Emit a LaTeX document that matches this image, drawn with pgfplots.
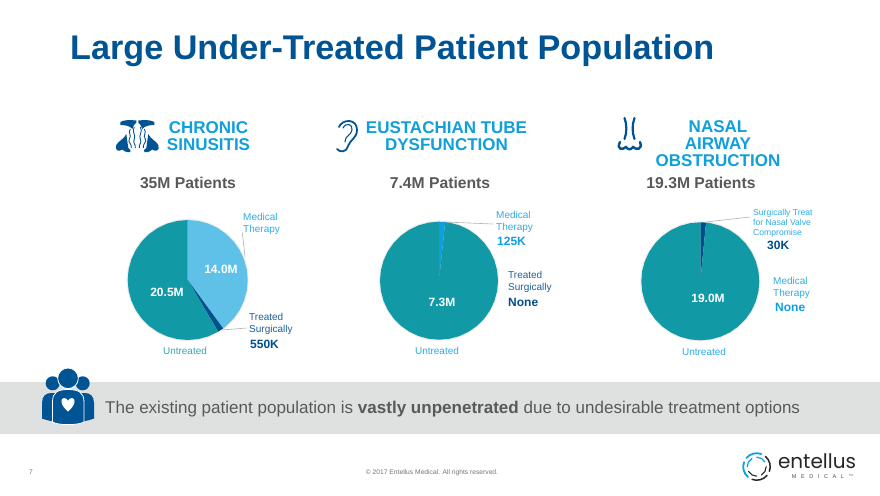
\documentclass[border=0pt]{standalone}
\usepackage{pgfplots}
\pgfplotsset{compat=1.18}
\usepgfplotslibrary{polar}
\usepackage{fontspec}
\setmainfont{Liberation Sans}
\newfontfamily\logofont{Poppins}
\definecolor{titleblue}{HTML}{005493}
\definecolor{head}{HTML}{0F9FDB}
\definecolor{greytxt}{HTML}{595959}
\definecolor{teal1}{HTML}{1199A6}
\definecolor{sky}{HTML}{5FC1E8}
\definecolor{navy}{HTML}{004F8C}
\definecolor{mid}{HTML}{0E9FE0}
\definecolor{lbl}{HTML}{2FACE2}
\definecolor{dk}{HTML}{1F5E9C}
\definecolor{tealtxt}{HTML}{3AA6B2}
\definecolor{band}{HTML}{DFE1E1}
\newcommand{\T}[6]{\node[anchor=#3,inner sep=0pt,text=#4,text height=#5*0.72pt,text depth=0pt,font=\fontsize{#5pt}{#5pt}\selectfont] at (#1,#2) {#6};}
\pgfplotsset{pie/.style={hide axis,scale only axis,width=#1pt,height=#1pt,anchor=center,xmin=0,xmax=360,ymin=0,ymax=1,clip=false}}
\begin{document}
\begin{tikzpicture}[x=1pt,y=-1pt]
\path[use as bounding box] (0,0) rectangle (880,495);
\fill[white] (0,0) rectangle (880,495);
\fill[band] (0,382) rectangle (880,434);
\foreach \cx/\cy/\r in {187.7/280/60,439/280.7/59,700.3/281.3/59}{\fill[black!7] (\cx,\cy) circle (\r+1);}

% Chronic sinusitis: 14.0M, 0.55M, 20.5M
\begin{polaraxis}[pie=120,at={(187.7pt,-280pt)}]
\addplot[fill=sky,draw=none,no markers] coordinates {(0,0)(90,1)(80,1)(70,1)(60,1)(50,1)(40,1)(30,1)(20,1)(10,1)(0,1)(-10,1)(-20,1)(-30,1)(-40,1)(-50,1)(-53.8,1)};
\addplot[fill=navy,draw=none,no markers] coordinates {(0,0)(-53.8,1)(-59.45,1)};
\addplot[fill=teal1,draw=none,no markers] coordinates {(0,0)(-59.45,1)(-70,1)(-80,1)(-90,1)(-100,1)(-110,1)(-120,1)(-130,1)(-140,1)(-150,1)(-160,1)(-170,1)(-180,1)(-190,1)(-200,1)(-210,1)(-220,1)(-230,1)(-240,1)(-250,1)(-260,1)(-270,1)};
\end{polaraxis}
% Eustachian tube dysfunction: 0.125M, 7.3M
\begin{polaraxis}[pie=118,at={(439pt,-280.7pt)}]
\addplot[fill=mid,draw=none,no markers] coordinates {(0,0)(90,1)(84,1)};
\addplot[fill=teal1,draw=none,no markers] coordinates {(0,0)(84,1)(80,1)(70,1)(60,1)(50,1)(40,1)(30,1)(20,1)(10,1)(0,1)(-10,1)(-20,1)(-30,1)(-40,1)(-50,1)(-60,1)(-70,1)(-80,1)(-90,1)(-100,1)(-110,1)(-120,1)(-130,1)(-140,1)(-150,1)(-160,1)(-170,1)(-180,1)(-190,1)(-200,1)(-210,1)(-220,1)(-230,1)(-240,1)(-250,1)(-260,1)(-270,1)};
\end{polaraxis}
% Nasal airway obstruction: 0.3M as drawn, 19.0M
\begin{polaraxis}[pie=118,at={(700.3pt,-281.3pt)}]
\addplot[fill=navy,draw=none,no markers] coordinates {(0,0)(90,1)(84.4,1)};
\addplot[fill=teal1,draw=none,no markers] coordinates {(0,0)(84.4,1)(80,1)(70,1)(60,1)(50,1)(40,1)(30,1)(20,1)(10,1)(0,1)(-10,1)(-20,1)(-30,1)(-40,1)(-50,1)(-60,1)(-70,1)(-80,1)(-90,1)(-100,1)(-110,1)(-120,1)(-130,1)(-140,1)(-150,1)(-160,1)(-170,1)(-180,1)(-190,1)(-200,1)(-210,1)(-220,1)(-230,1)(-240,1)(-250,1)(-260,1)(-270,1)};
\end{polaraxis}

% leaders
\draw[black!30,line width=.6pt] (242.3,232.3) -- (245,256.7);
\draw[black!30,line width=.6pt] (222,330) -- (246.7,328);
\draw[black!30,line width=.6pt] (445,222) -- (493,224);
\draw[black!30,line width=.6pt] (706,222) -- (750,217);

% title
\T{70}{47}{west}{titleblue}{34.2}{\bfseries Large Under-Treated Patient Population}

% headings
\T{208.5}{127}{center}{head}{17}{\bfseries CHRONIC}
\T{208.5}{144}{center}{head}{17}{\bfseries SINUSITIS}
\T{446.5}{127}{center}{head}{17}{\bfseries EUSTACHIAN TUBE}
\T{446.5}{144}{center}{head}{17}{\bfseries DYSFUNCTION}
\T{718}{126}{center}{head}{17}{\bfseries NASAL}
\T{718}{143}{center}{head}{17}{\bfseries AIRWAY}
\T{718}{160}{center}{head}{17}{\bfseries OBSTRUCTION}
\T{188}{183}{center}{greytxt}{15.7}{\bfseries 35M Patients}
\T{440}{183}{center}{greytxt}{15.7}{\bfseries 7.4M Patients}
\T{701}{183}{center}{greytxt}{15.7}{\bfseries 19.3M Patients}

% pie 1 labels
\T{243}{217}{west}{lbl}{10}{Medical}
\T{243}{229}{west}{lbl}{10}{Therapy}
\T{221}{269}{center}{white}{12}{\bfseries 14.0M}
\T{167}{292}{center}{white}{12}{\bfseries 20.5M}
\T{249}{317}{west}{dk}{10}{Treated}
\T{249}{329}{west}{dk}{10}{Surgically}
\T{250}{344}{west}{navy}{12}{\bfseries 550K}
\T{185}{351}{center}{tealtxt}{10}{Untreated}
% pie 2 labels
\T{496}{215}{west}{lbl}{10}{Medical}
\T{496}{227}{west}{lbl}{10}{Therapy}
\T{497}{241}{west}{mid}{12}{\bfseries 125K}
\T{508}{275}{west}{dk}{10}{Treated}
\T{508}{287}{west}{dk}{10}{Surgically}
\T{508}{302}{west}{navy}{12}{\bfseries None}
\T{442}{302}{center}{white}{12}{\bfseries 7.3M}
\T{437}{351}{center}{lbl}{10}{Untreated}
% pie 3 labels
\T{753}{212}{west}{lbl}{8.6}{Surgically Treat}
\T{753}{222}{west}{lbl}{8.6}{for Nasal Valve}
\T{753}{232}{west}{lbl}{8.6}{Compromise}
\T{767}{245}{west}{navy}{12}{\bfseries 30K}
\T{773}{281}{west}{lbl}{10}{Medical}
\T{773}{293}{west}{lbl}{10}{Therapy}
\T{775}{307}{west}{mid}{12}{\bfseries None}
\T{708}{298}{center}{white}{12}{\bfseries 19.0M}
\T{704}{352}{center}{lbl}{10}{Untreated}

% band text and footer
\T{105}{407}{west}{greytxt}{17.03}{The existing patient population is \textbf{vastly unpenetrated} due to undesirable treatment options}
\T{31}{472}{center}{black!55}{6.7}{7}
\T{432}{472}{center}{black!55}{6.7}{© 2017 Entellus Medical. All rights reserved.}

% people icon
\fill[titleblue] (42,419) -- (42,403) .. controls (42,396) and (46,393) .. (51,393) -- (56,393) -- (56,422) .. controls (50,421) and (46,420) .. (42,418.5) -- cycle;
\fill[titleblue] (94,419) -- (94,403) .. controls (94,396) and (90,393) .. (85,393) -- (80,393) -- (80,422) .. controls (86,421) and (90,420) .. (94,418.5) -- cycle;
\fill[titleblue] (52.7,383.3) circle (7);
\fill[titleblue] (82.7,383.3) circle (7);
\filldraw[fill=titleblue,draw=white,line width=.8pt] (52.5,402) .. controls (52.5,392) and (58,389.5) .. (68,389.5) .. controls (78,389.5) and (84,392) .. (84,402) -- (84,422) .. controls (78,425.5) and (58,425.5) .. (52.5,422) -- cycle;
\filldraw[fill=titleblue,draw=white,line width=.8pt] (68,378.3) circle (10.3);
\fill[white] (68,411.5) .. controls (60,405) and (60,398) .. (64,398) .. controls (66,398) and (68,399.5) .. (68,401) .. controls (68,399.5) and (70,398) .. (72,398) .. controls (76,398) and (76,405) .. (68,411.5) -- cycle;

% sinus icon
\foreach \s in {1,-1}{
\begin{scope}[shift={(137.3,0)},xscale=\s]
\fill[titleblue] (-17,122) .. controls (-13,119.5) and (-6,120) .. (-1,120.5) -- (-1,123) .. controls (-4,124) and (-4,128) .. (-5,129) .. controls (-7,126) and (-12,125) .. (-17,125) -- cycle;
\fill[titleblue] (-21,145) .. controls (-19,141) and (-13,139) .. (-11,134) -- (-9,148) .. controls (-7,149) and (-6,151) .. (-7,152) .. controls (-11,152.5) and (-14,151) .. (-15,149.5) .. controls (-18,152) and (-23,151) .. (-21,145) -- cycle;
\draw[titleblue,line width=.9pt] (-7,129) .. controls (-10,133) and (-5,135) .. (-8,139) .. controls (-10,142) and (-5,144) .. (-6,148);
\draw[titleblue,line width=.9pt] (-3,127) .. controls (-6,132) and (-1,135) .. (-3,139) .. controls (-5,143) and (-1,145) .. (-2,148);
\end{scope}}

% ear icon
\draw[titleblue,line width=1.8pt,line cap=round] (339,127) .. controls (342,119) and (357,118) .. (357,130) .. controls (357,138) and (350,140) .. (348,146) .. controls (347,152) and (340,153) .. (337,149);
\draw[titleblue,line width=1.1pt,line cap=round] (343,128) .. controls (346,122) and (353,124) .. (352,130) .. controls (351,136) and (346,134) .. (345,142);

% nose icon
\draw[titleblue,line width=2.2pt,line cap=round] (624.5,118) .. controls (627,125) and (627,132) .. (624.5,139);
\draw[titleblue,line width=2.2pt,line cap=round] (634.5,118) .. controls (632,125) and (632,132) .. (634.5,139);
\draw[titleblue,line width=2.4pt,line cap=round] (620,142) .. controls (616,150) and (623,150) .. (626,147) .. controls (628,150) and (631,150) .. (633,147) .. controls (636,150) and (643,150) .. (640,142);

% logo
\foreach \a in {20,110}{\draw[black!85,line width=1.5pt,line cap=round] (756.7,466.7) ++(\a:13.5) arc[start angle=\a,end angle=\a-70,radius=13.5];}
\foreach \a in {200,290}{\draw[mid,line width=1.8pt,line cap=round] (756.7,466.7) ++(\a:13.5) arc[start angle=\a,end angle=\a-70,radius=13.5];}
\foreach \a in {60,150}{\draw[black!85,line width=1.1pt,line cap=round] (756.7,466.7) ++(\a:9.5) arc[start angle=\a,end angle=\a-60,radius=9.5];}
\foreach \a in {240,330}{\draw[mid,line width=1.2pt,line cap=round] (756.7,466.7) ++(\a:9.5) arc[start angle=\a,end angle=\a-60,radius=9.5];}
\node[anchor=center,inner sep=0pt,text=black!85,font=\logofont\fontsize{20}{20}\selectfont] at (817,461) {entellus};
\node[anchor=center,inner sep=0pt,text=black!70,font=\fontsize{5.5}{6}\selectfont] at (818,477) {M\hspace{4.6pt}E\hspace{4.6pt}D\hspace{4.6pt}I\hspace{4.6pt}C\hspace{4.6pt}A\hspace{4.6pt}L};
\node[anchor=center,inner sep=0pt,text=black!60,font=\fontsize{3}{3}\selectfont] at (851,475) {TM};
\end{tikzpicture}
\end{document}
